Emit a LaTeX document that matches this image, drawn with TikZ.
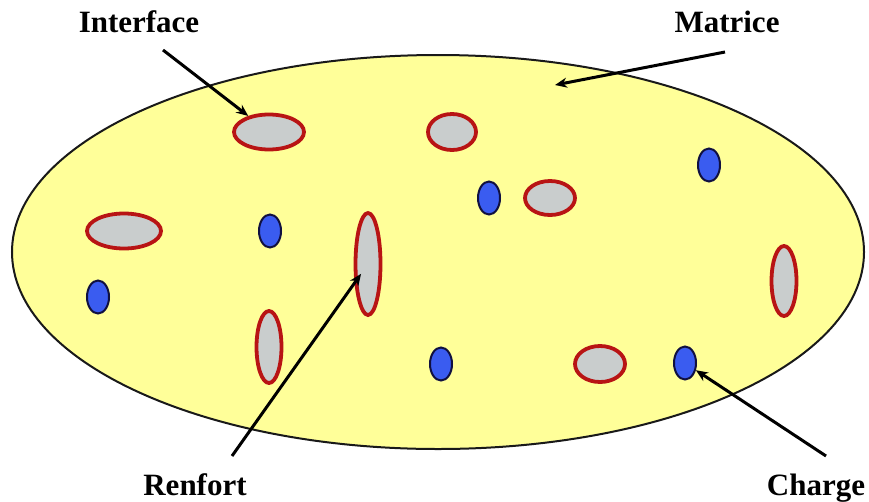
\documentclass[tikz,border=0pt]{standalone}
\usepackage{fontspec}
\setmainfont{Liberation Serif}
\usetikzlibrary{shapes.geometric, arrows.meta, positioning}
\definecolor{matrix}{HTML}{FFFF99}
\definecolor{rim}{HTML}{B81414}
\definecolor{fibre}{HTML}{C9CDCD}
\definecolor{filler}{HTML}{3A5CF0}
\definecolor{fillerline}{HTML}{101040}
\tikzset{
    matrixbody/.style={
        ellipse, minimum width=852pt, minimum height=394pt, inner sep=0pt,
        draw=black!90, line width=2pt, fill=matrix
    },
    renfort/.style={
        ellipse, inner sep=0pt, draw=rim, line width=3.8pt, fill=fibre
    },
    charge/.style={
        ellipse, minimum width=22pt, minimum height=33pt, inner sep=0pt,
        draw=fillerline, line width=2pt, fill=filler
    },
    label/.style={
        font=\fontsize{31}{36}\selectfont\bfseries, anchor=base, inner sep=0pt
    },
    arrow/.style={
        -{Stealth[length=12pt, width=10pt]}, line width=3pt, draw=black
    }
}

\begin{document}
\begin{tikzpicture}[x=1pt, y=-1pt]

    \useasboundingbox (0,0) rectangle (869,501);

    % ── Matrix ──
    \node[matrixbody] (mat) at (438,252) {};

    % ── Reinforcements ──
    \node[renfort, minimum width=70pt, minimum height=35pt] (r1) at (269,132) {};
    \node[renfort, minimum width=48pt, minimum height=36pt] (r2) at (452,132) {};
    \node[renfort, minimum width=50pt, minimum height=34pt] (r3) at (550,198) {};
    \node[renfort, minimum width=74pt, minimum height=35pt] (r4) at (124,231) {};
    \node[renfort, minimum width=25pt, minimum height=102pt] (r5) at (368,264) {};
    \node[renfort, minimum width=25pt, minimum height=72pt]  (r6) at (269,347) {};
    \node[renfort, minimum width=25pt, minimum height=70pt]  (r7) at (784,281) {};
    \node[renfort, minimum width=50pt, minimum height=36pt] (r8) at (600,364) {};

    % ── Fillers ──
    \node[charge] (c1) at (709,165) {};
    \node[charge] (c2) at (489,198) {};
    \node[charge] (c3) at (270,231) {};
    \node[charge] (c4) at (98,297)  {};
    \node[charge] (c5) at (441,364) {};
    \node[charge] (c6) at (685,363) {};

    % ── Labels ──
    \node[label] (interface) at (139,32)  {Interface};
    \node[label] (matrice)   at (727,32)  {Matrice};
    \node[label] (renf)      at (195,495) {Renfort};
    \node[label] (charg)     at (816,495) {Charge};

    \coordinate (interfacestart) at (163,50);
    \coordinate (matricestart)   at (725,52);
    \coordinate (matpt)          at (555,85);
    \coordinate (renfstart)      at (232,456);
    \coordinate (chargstart)     at (826,456);

    % ── Arrows ──
    \draw[arrow] (interfacestart) -- (r1);
    \draw[arrow] (matricestart)   -- (matpt);
    \draw[arrow, shorten >=12pt] (renfstart) -- (r5.center);
    \draw[arrow] (chargstart)     -- (c6);

\end{tikzpicture}
\end{document}
